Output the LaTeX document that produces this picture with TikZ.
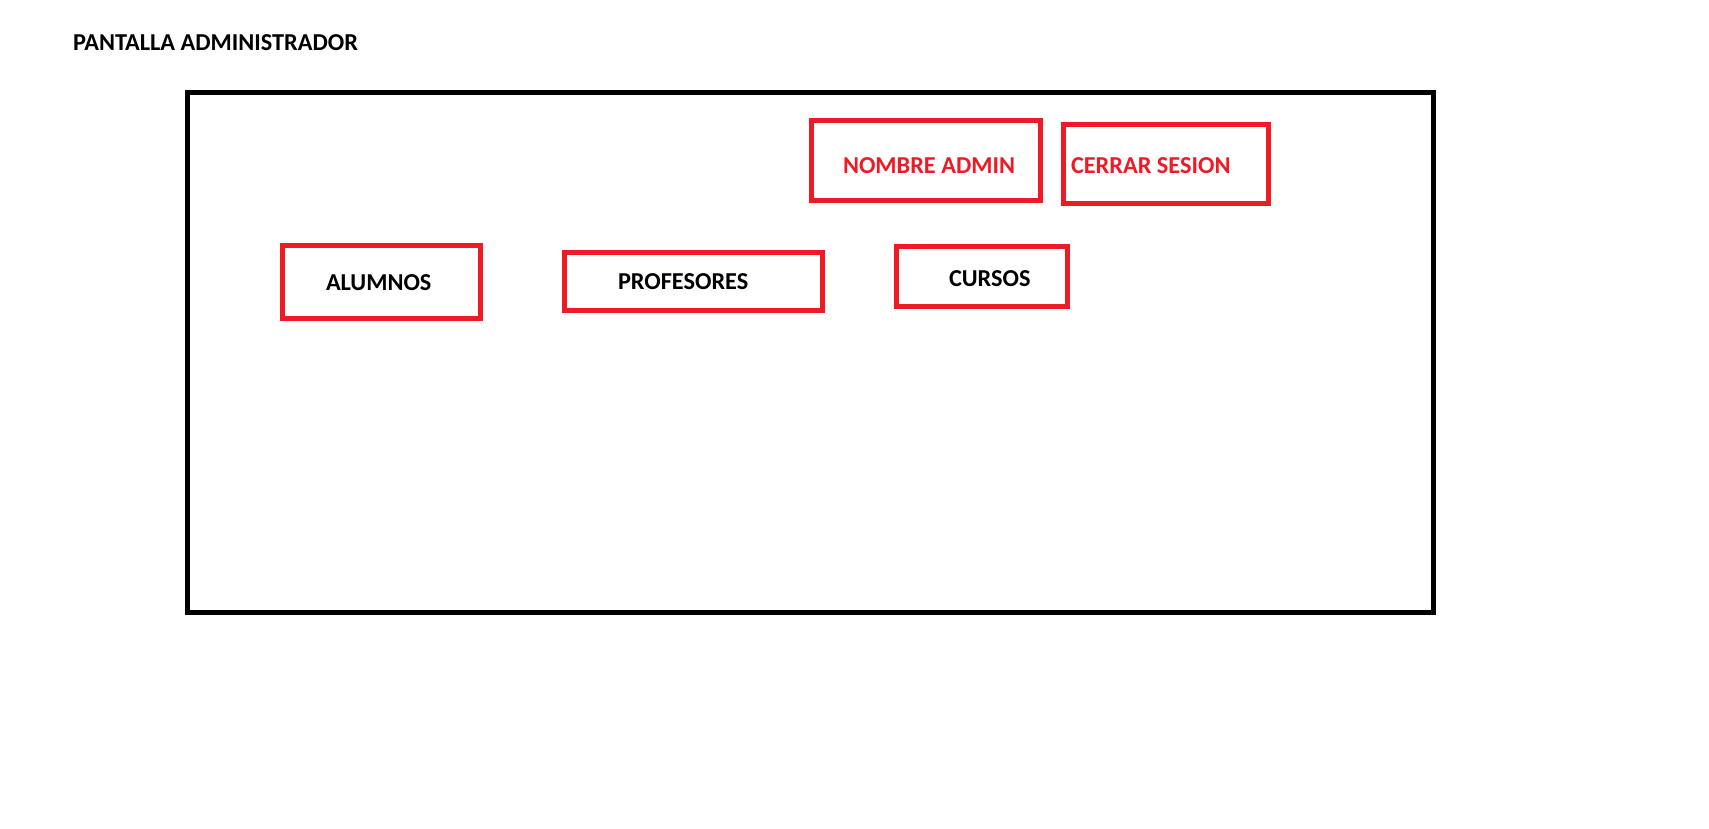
\documentclass[tikz,border=0pt]{standalone}
\usepackage{fontspec}
\setmainfont{Carlito}
\definecolor{mred}{HTML}{ED1C24}
\tikzset{
  frame/.style={draw=black, line width=5pt, inner sep=0pt, outer sep=0pt},
  btn/.style={draw=mred, line width=5pt, inner sep=0pt, outer sep=0pt, fill=none},
  lbl/.style={anchor=base west, inner sep=0pt, outer sep=0pt, font=\fontsize{24.3}{28}\selectfont\bfseries},
  blk/.style={lbl, text=black},
  rlbl/.style={lbl, text=mred}
}
\begin{document}
\begin{tikzpicture}[x=1pt, y=-1pt]
\useasboundingbox (0,0) rectangle (1709,828);
\fill[white] (0,0) rectangle (1709,828);
% title
\node[blk] (title) at (73,50) {PANTALLA ADMINISTRADOR};
% screen frame
\node[frame, minimum width=1246pt, minimum height=520pt] (screen) at (810.5,352.5) {};
% top buttons
\node[btn, minimum width=229pt, minimum height=80pt] (adminbox) at (926,160.5) {};
\node[rlbl] (admin) at (843,173) {NOMBRE ADMIN};
\node[btn, minimum width=205pt, minimum height=79pt] (logoutbox) at (1166,164) {};
\node[rlbl] (logout) at (1071,173) {CERRAR SESION};
% menu buttons
\node[btn, minimum width=198pt, minimum height=73pt] (alumnosbox) at (381.5,282) {};
\node[blk] (alumnos) at (326,290) {ALUMNOS};
\node[btn, minimum width=258pt, minimum height=58pt] (profesbox) at (693.5,281.5) {};
\node[blk] (profes) at (618,289) {PROFESORES};
\node[btn, minimum width=171pt, minimum height=60pt] (cursosbox) at (982,276.5) {};
\node[blk] (cursos) at (949,286) {CURSOS};
\end{tikzpicture}
\end{document}
